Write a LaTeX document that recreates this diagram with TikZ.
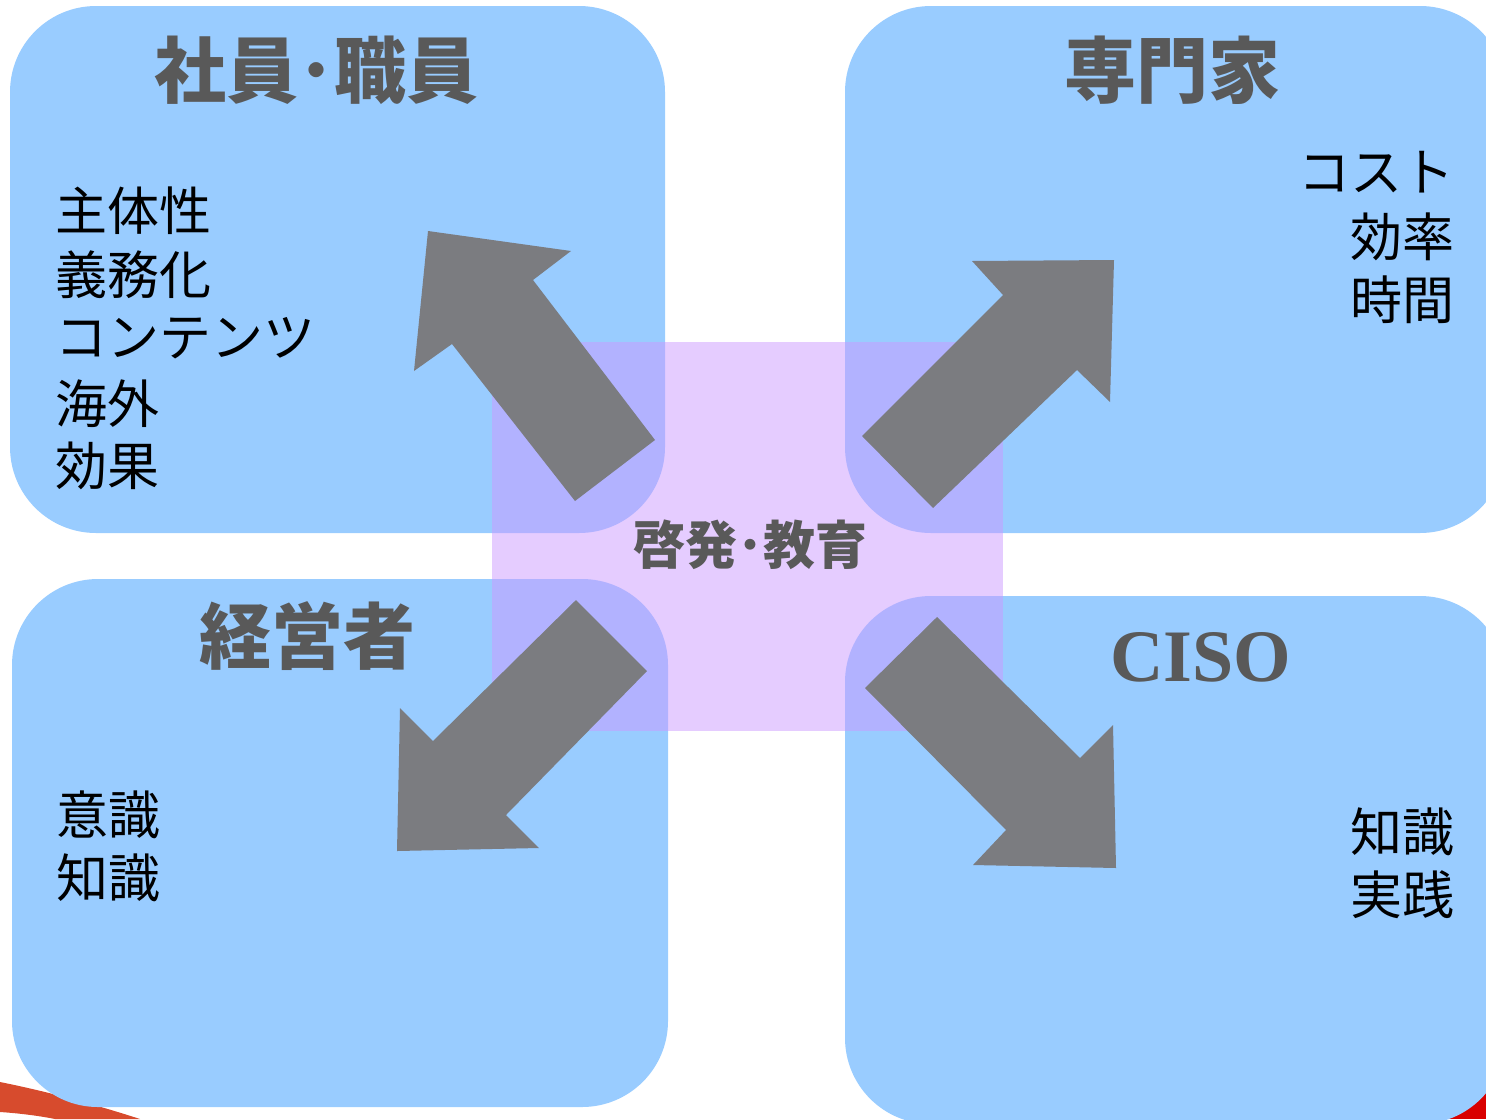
\documentclass[tikz,border=0pt]{standalone}
\usepackage{fontspec}
\newfontfamily\jp{Noto Sans CJK JP}
\newfontfamily\tms{Liberation Serif}
\definecolor{boxblue}{RGB}{153,204,255}
\definecolor{lav}{RGB}{204,153,255}
\definecolor{arrowgray}{RGB}{123,124,128}
\definecolor{titlegray}{RGB}{89,89,89}
\definecolor{swoosh}{RGB}{215,75,45}
\tikzset{
  quad/.style={fill=boxblue, rounded corners=43pt},
  blockarrow/.style={fill=arrowgray},
  titletext/.style={font=\jp\bfseries\fontsize{36pt}{40pt}\selectfont, text=titlegray, inner sep=0pt},
  itemtext/.style={font=\jp\fontsize{26pt}{30pt}\selectfont, text=black, inner sep=0pt},
}
\begin{document}
\begin{tikzpicture}[x=0.5pt,y=-0.5pt]
\useasboundingbox (0,0) rectangle (1486,1119);
% background fragments
\fill[swoosh] (0,1082) .. controls (50,1092) and (100,1106) .. (140,1119) -- (55,1119) .. controls (35,1115) and (15,1113) .. (0,1112) -- cycle;
\fill[red!85!black] (1440,1070) rectangle (1486,1119);
% quadrant boxes
\fill[quad] (10,6) rectangle (665,533);
\fill[quad] (845,6) rectangle (1506,533);
\fill[quad] (12,579) rectangle (668,1107);
\fill[quad] (845,596) rectangle (1506,1124);
% centre square
\fill[lav, fill opacity=0.5] (492,342) rectangle (1003,731);
% arrows
\fill[blockarrow] (428,231) -- (571,251) -- (533,280) -- (655,440) -- (575,501) -- (452,344) -- (414,371) -- cycle;
\fill[blockarrow] (862,436) -- (1003,295) -- (972,261) -- (1114,260) -- (1110,402) -- (1077,370) -- (933,508) -- cycle;
\fill[blockarrow] (576,600) -- (433,741) -- (400,708) -- (397,851) -- (539,848) -- (506,815) -- (647,671) -- cycle;
\fill[blockarrow] (865,688) -- (937,617) -- (1080,758) -- (1113,725) -- (1116,868) -- (973,865) -- (1006,830) -- cycle;
% titles
\node[titletext] (t1) at (316,70) {社員･職員};
\node[titletext] (t2) at (1172,70) {専門家};
\node[titletext] (t3) at (307,636) {経営者};
\node[titletext, font=\tms\bfseries\fontsize{37pt}{40pt}\selectfont] (t4) at (1201,657) {CISO};
\node[titletext, font=\jp\bfseries\fontsize{26pt}{30pt}\selectfont] (c) at (750,545) {啓発･教育};
% lists
\node[itemtext, anchor=west] (a1) at (55,211) {主体性};
\node[itemtext, anchor=west] (a2) at (55,275) {義務化};
\node[itemtext, anchor=west] (a3) at (55,338) {コンテンツ};
\node[itemtext, anchor=west] (a4) at (55,404) {海外};
\node[itemtext, anchor=west] (a5) at (55,466) {効果};
\node[itemtext, anchor=east] (b1) at (1455,172) {コスト};
\node[itemtext, anchor=east] (b2) at (1455,237) {効率};
\node[itemtext, anchor=east] (b3) at (1455,300) {時間};
\node[itemtext, anchor=west] (d1) at (56,815) {意識};
\node[itemtext, anchor=west] (d2) at (56,878) {知識};
\node[itemtext, anchor=east] (e1) at (1455,832) {知識};
\node[itemtext, anchor=east] (e2) at (1455,895) {実践};
\end{tikzpicture}
\end{document}
